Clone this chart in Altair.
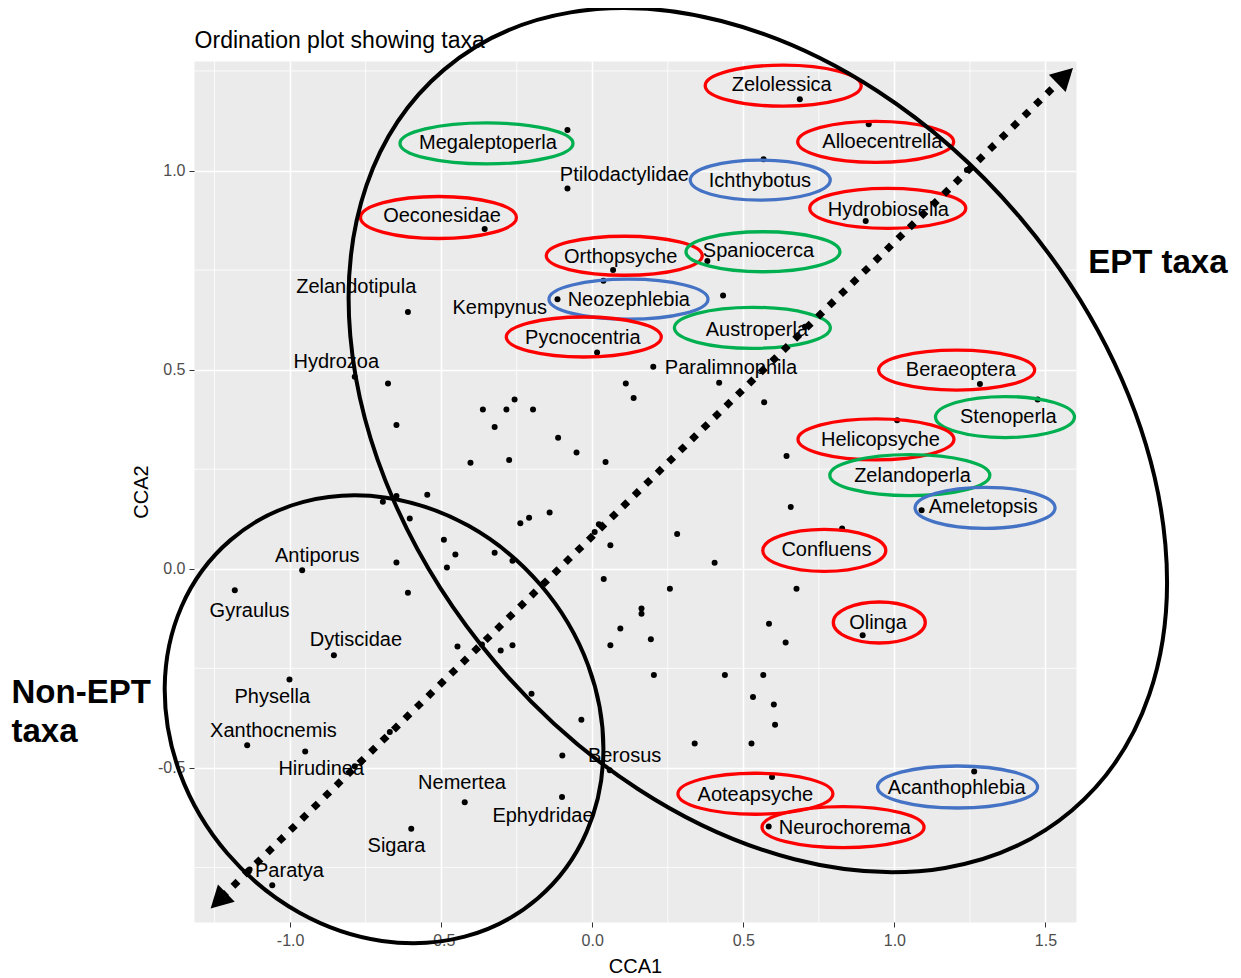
import altair as alt
import pandas as pd

FONT = "Liberation Sans"

# ---------------- data ----------------
# site/taxon scores (black dots)
pt_x = [-0.082, -0.082, -0.356, -0.610, -0.115, 0.687, 0.915, 0.567, 0.905, 1.240,
        0.069, 0.381, 0.037, 0.433, 0.704, 0.016, 0.202, 0.111, 0.420, 1.283,
        0.569, 1.474, 1.009, 0.643, 1.090, 0.657, 0.827, 0.281, 0.405, 0.257,
        0.676, 0.163, 0.163, 0.585, 0.194, 0.640, 0.895, -0.786, -0.676, 0.137,
        -0.257, -0.362, -0.284, -0.196, -0.323, -0.648, -0.113, -0.052, 0.044, -0.403,
        -0.275, -0.648, -0.693, -0.546, -0.604, -0.141, -0.209, -0.238, 0.022, 0.008,
        0.060, -0.491, -0.453, -0.323, -0.264, -0.481, -0.648, -0.960, -0.610, 0.038,
        0.093, 0.060, -0.855, -0.446, -0.303, -0.264, -0.365, -1.002, -1.142, -0.950,
        -0.786, -0.670, -0.201, -0.036, -0.099, 0.058, -0.422, -0.100, -0.599, -1.134,
        -1.059, -1.183, 0.204, 0.439, 0.566, 0.532, 0.601, 0.605, 0.339, 0.527,
        0.595, 0.584, 1.264]
pt_y = [1.102, 0.955, 0.853, 0.645, 0.677, 1.179, 1.116, 1.028, 0.873, 1.001,
        0.750, 0.773, 0.723, 0.686, 0.608, 0.543, 0.507, 0.465, 0.467, 0.464,
        0.418, 0.425, 0.373, 0.283, 0.147, 0.155, 0.101, 0.087, 0.015, -0.050,
        -0.050, -0.100, -0.113, -0.138, -0.177, -0.185, -0.167, 0.482, 0.465, 0.429,
        0.425, 0.400, 0.400, 0.400, 0.356, 0.361, 0.329, 0.292, 0.268, 0.266,
        0.273, 0.183, 0.168, 0.186, 0.126, 0.141, 0.128, 0.114, 0.112, 0.092,
        0.059, 0.073, 0.036, 0.040, 0.020, 0.003, 0.016, -0.004, -0.060, -0.026,
        -0.150, -0.192, -0.217, -0.195, -0.205, -0.192, -0.190, -0.278, -0.443, -0.459,
        -0.496, -0.410, -0.314, -0.379, -0.469, -0.506, -0.586, -0.573, -0.653, -0.755,
        -0.795, -0.054, -0.267, -0.267, -0.267, -0.322, -0.341, -0.392, -0.439, -0.439,
        -0.523, -0.647, -0.509]

# taxon labels
lab_text = ["Megaleptoperla", "Ptilodactylidae", "Oeconesidae", "Zelandotipula", "Kempynus",
            "Zelolessica", "Alloecentrella", "Ichthybotus", "Hydrobiosella", "Orthopsyche",
            "Spaniocerca", "Neozephlebia", "Austroperla", "Pycnocentria", "Paralimnophila",
            "Hydrozoa", "Beraeoptera", "Stenoperla", "Helicopsyche", "Zelandoperla",
            "Ameletopsis", "Confluens", "Antiporus", "Gyraulus", "Olinga",
            "Dytiscidae", "Physella", "Xanthocnemis", "Hirudinea", "Nemertea",
            "Berosus", "Ephydridae", "Aoteapsyche", "Acanthophlebia", "Neurochorema",
            "Sigara", "Paratya"]
lab_x = [-0.345, 0.106, -0.497, -0.781, -0.306,
         0.627, 0.960, 0.555, 0.980, 0.094,
         0.550, 0.121, 0.545, -0.031, 0.459,
         -0.847, 1.220, 1.377, 0.954, 1.060,
         1.294, 0.775, -0.910, -1.134, 0.946,
         -0.782, -1.059, -1.055, -0.897, -0.431,
         0.107, -0.163, 0.540, 1.206, 0.836,
         -0.648, -1.002]
lab_y = [1.068, 0.989, 0.887, 0.708, 0.656,
         1.215, 1.072, 0.974, 0.901, 0.782,
         0.798, 0.676, 0.600, 0.579, 0.503,
         0.518, 0.500, 0.382, 0.323, 0.232,
         0.155, 0.048, 0.031, -0.106, -0.136,
         -0.180, -0.322, -0.408, -0.504, -0.537,
         -0.470, -0.621, -0.567, -0.550, -0.650,
         -0.697, -0.760]

# highlighted taxa (coloured rings) : centre and group
ring_name = ["Zelolessica", "Megaleptoperla", "Alloecentrella", "Ichthybotus", "Oeconesidae",
             "Hydrobiosella", "Orthopsyche", "Spaniocerca", "Neozephlebia", "Austroperla",
             "Pycnocentria", "Beraeoptera", "Stenoperla", "Helicopsyche", "Zelandoperla",
             "Ameletopsis", "Confluens", "Olinga", "Aoteapsyche", "Neurochorema",
             "Acanthophlebia"]
ring_x = [0.632, -0.350, 0.938, 0.556, -0.509,
          0.978, 0.106, 0.565, 0.120, 0.530,
          -0.028, 1.206, 1.366, 0.939, 1.051,
          1.300, 0.768, 0.950, 0.540, 0.830,
          1.209]
ring_y = [1.213, 1.068, 1.072, 0.976, 0.882,
          0.905, 0.786, 0.796, 0.677, 0.605,
          0.582, 0.499, 0.381, 0.325, 0.235,
          0.153, 0.046, -0.135, -0.565, -0.649,
          -0.548]
ring_group = ["T", "P", "T", "E", "T",
              "T", "T", "P", "E", "P",
              "T", "T", "P", "T", "P",
              "E", "T", "T", "T", "T",
              "E"]

# group ellipses (centres) and arrow ends, in CCA units
grp_name = ["EPT", "NonEPT"]
grp_x = [0.548, -0.689]
grp_y = [0.323, -0.378]
arrow_x = [-1.227, 1.555]
arrow_y = [-0.825, 1.230]
head_x = [1.565, -1.237]
head_y = [1.238, -0.834]

note_text = ["EPT taxa", "Non-EPT", "taxa"]
note_x = [1.872, -1.922, -1.922]
note_y = [0.768, -0.313, -0.411]

title_text = ["Ordination plot showing taxa"]
title_x = [-1.316]
title_y = [1.3085]

x_major = [-1.0, -0.5, 0.0, 0.5, 1.0, 1.5]
y_major = [-0.5, 0.0, 0.5, 1.0]
x_minor = [-1.25, -0.75, -0.25, 0.25, 0.75, 1.25]
y_minor = [-0.75, -0.25, 0.25, 0.75, 1.25]

# ---------------- styles ----------------
ring_color = {"T": "#FF0000", "P": "#00B050", "E": "#4472C4"}
ring_w = [156, 173, 156, 140, 156,
          156, 156, 154, 159, 156,
          155, 156, 139, 156, 160,
          140, 123, 92, 155, 162,
          160]
ring_h = [41, 41, 41, 40, 42,
          40, 39, 40, 40, 41,
          40, 40, 41, 41, 41,
          41, 42, 41, 41, 41,
          42]
grp_w = [971, 472]
grp_ratio = [0.7085, 0.874]
grp_angle = [49.7, 49.4]
head_angle = [45.7, 225.7]

K = 0.5523


def ellipse_path(r):
    a = K * r
    return (f"M-1,0C-1,{-a:.4f},{-K:.4f},{-r:.4f},0,{-r:.4f}"
            f"C{K:.4f},{-r:.4f},1,{-a:.4f},1,0"
            f"C1,{a:.4f},{K:.4f},{r:.4f},0,{r:.4f}"
            f"C{-K:.4f},{r:.4f},-1,{a:.4f},-1,0Z")


XDOM = [-1.318, 1.601]
YDOM = [-0.887, 1.275]
LABEXPR = "datum.value < 0 ? '-' + format(-datum.value, '.1f') : format(datum.value, '.1f')"


def X(field):
    return alt.X(field, type="quantitative",
                 scale=alt.Scale(domain=XDOM, nice=False, zero=False),
                 axis=alt.Axis(values=x_major, labelExpr=LABEXPR, title="CCA1",
                               titlePadding=8, labelPadding=5))


def Y(field):
    return alt.Y(field, type="quantitative",
                 scale=alt.Scale(domain=YDOM, nice=False, zero=False),
                 axis=alt.Axis(values=y_major, labelExpr=LABEXPR, title="CCA2",
                               titlePadding=6, labelPadding=4))


pts = pd.DataFrame({"x": pt_x, "y": pt_y})
labs = pd.DataFrame({"x": lab_x, "y": lab_y, "t": lab_text})
rings = pd.DataFrame({
    "name": ring_name, "x": ring_x, "y": ring_y,
    "col": [ring_color[g] for g in ring_group],
    "shape": [ellipse_path(h / w) for w, h in zip(ring_w, ring_h)],
    "size": [w * w for w in ring_w],
})
grps = pd.DataFrame({
    "name": grp_name, "x": grp_x, "y": grp_y,
    "shape": [ellipse_path(r) for r in grp_ratio],
    "size": [w * w for w in grp_w],
    "ang": grp_angle,
})
arrow = pd.DataFrame({"x": arrow_x, "y": arrow_y})
heads = pd.DataFrame({"x": head_x, "y": head_y, "ang": head_angle})
notes = pd.DataFrame({"x": note_x, "y": note_y, "t": note_text,
                      "al": ["center", "left", "left"]})
titles = pd.DataFrame({"x": title_x, "y": title_y, "t": title_text})
xmin = pd.DataFrame({"v": x_minor})
ymin = pd.DataFrame({"v": y_minor})

vgrid = alt.Chart(xmin).mark_rule(color="white", strokeWidth=0.8).encode(x=X("v"))
hgrid = alt.Chart(ymin).mark_rule(color="white", strokeWidth=0.8).encode(y=Y("v"))

dots = alt.Chart(pts).mark_circle(size=36, color="black", opacity=1).encode(x=X("x"), y=Y("y"))

texts = alt.Chart(labs).mark_text(font=FONT, fontSize=20, color="black",
                                  align="center", baseline="middle").encode(
    x=X("x"), y=Y("y"), text="t:N")

ring_layer = alt.Chart(rings).mark_point(filled=False, strokeWidth=3.3, opacity=1).encode(
    x=X("x"), y=Y("y"),
    shape=alt.Shape("shape:N", scale=None, legend=None),
    size=alt.Size("size:Q", scale=None, legend=None),
    stroke=alt.Stroke("col:N", scale=None, legend=None),
)

grp_layer = alt.Chart(grps).mark_point(filled=False, strokeWidth=4, color="black", opacity=1).encode(
    x=X("x"), y=Y("y"),
    shape=alt.Shape("shape:N", scale=None, legend=None),
    size=alt.Size("size:Q", scale=None, legend=None),
    angle=alt.Angle("ang:Q", scale=None),
)

arrow_line = alt.Chart(arrow).mark_line(color="black", strokeWidth=7, strokeDash=[7, 9],
                                        strokeCap="butt").encode(x=X("x"), y=Y("y"))

head_layer = alt.Chart(heads).mark_point(shape="M0,-0.917L1,0.917L-1,0.917Z", filled=True,
                                         size=576, color="black", opacity=1).encode(
    x=X("x"), y=Y("y"), angle=alt.Angle("ang:Q", scale=None))

note_c = alt.Chart(notes[notes.al == "center"]).mark_text(
    font=FONT, fontSize=33, fontWeight="bold", color="black", align="center",
    baseline="middle").encode(x=X("x"), y=Y("y"), text="t:N")
note_l = alt.Chart(notes[notes.al == "left"]).mark_text(
    font=FONT, fontSize=33, fontWeight="bold", color="black", align="left",
    baseline="middle").encode(x=X("x"), y=Y("y"), text="t:N")

title_layer = alt.Chart(titles).mark_text(
    font=FONT, fontSize=23, color="black", align="left", baseline="alphabetic").encode(
    x=X("x"), y=Y("y"), text="t:N")

chart = alt.layer(
    vgrid, hgrid, dots, texts, title_layer, ring_layer, grp_layer, arrow_line, head_layer,
    note_c, note_l
).properties(
    width=882, height=861,
    autosize=alt.AutoSizeParams(type="none"),
    padding={"left": 186, "top": 53, "right": 155, "bottom": 54},
).configure_view(
    fill="#EBEBEB", stroke="transparent"
).configure_axis(
    domain=False, tickColor="#333333", tickSize=5, tickWidth=1,
    labelColor="#4D4D4D", labelFont=FONT, labelFontSize=16,
    titleFont=FONT, titleFontSize=20, titleColor="black", titleFontWeight="normal",
    gridColor="white", gridWidth=1.6,
)

chart.save("out.html", embed_options={"renderer": "svg", "actions": False})
